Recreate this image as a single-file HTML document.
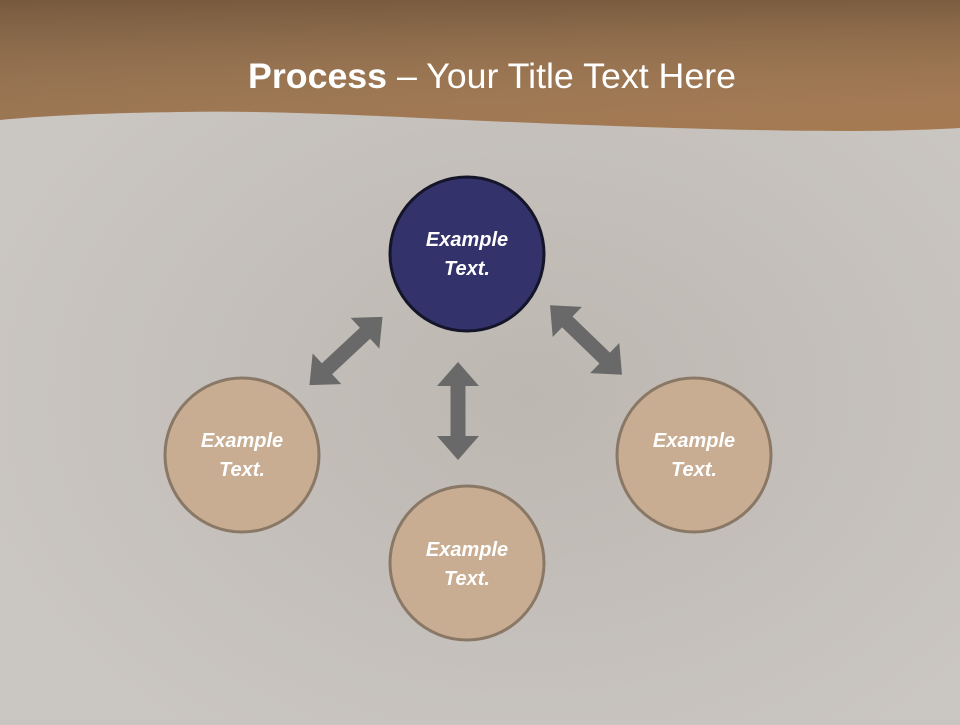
<!DOCTYPE html>
<html><head><style>
body{margin:0;width:960px;height:720px;overflow:hidden;background:#c8c4c0;font-family:"Liberation Sans",sans-serif}
</style></head><body>
<svg width="960" height="720" viewBox="0 0 960 720" xmlns="http://www.w3.org/2000/svg">
<defs>
<linearGradient id="hd" x1="0" y1="0" x2="1" y2="1">
<stop offset="0" stop-color="#8a6a4c"/><stop offset="0.5" stop-color="#9c7652"/><stop offset="1" stop-color="#a57a52"/>
</linearGradient>
<linearGradient id="hv" x1="0" y1="0" x2="0" y2="1">
<stop offset="0" stop-color="#6e5238" stop-opacity="0.7"/><stop offset="1" stop-color="#b08a66" stop-opacity="0"/>
</linearGradient>
<radialGradient id="bg" cx="0.55" cy="0.55" r="0.6">
<stop offset="0" stop-color="#bdb7b1"/><stop offset="1" stop-color="#cac6c2"/>
</radialGradient>
</defs>
<rect width="960" height="720" fill="url(#bg)"/>
<path d="M0 0H960V128C860 134 720 130 560 124C400 118 300 110 180 112C100 113 40 116 0 120Z" fill="url(#hd)"/>
<path d="M0 0H960V128C860 134 720 130 560 124C400 118 300 110 180 112C100 113 40 116 0 120Z" fill="url(#hv)"/>
<text x="492" y="88" text-anchor="middle" fill="#fff" font-family="Liberation Sans, sans-serif" font-size="35" textLength="488" lengthAdjust="spacingAndGlyphs"><tspan font-weight="bold">Process</tspan> – Your Title Text Here</text>
<g fill="#696969">
<polygon transform="translate(458,411) rotate(90)" points="-49,0 -25,-21 -25,-7.5 25,-7.5 25,-21 49,0 25,21 25,7.5 -25,7.5 -25,21"/>
<polygon transform="translate(346,351) rotate(-43)" points="-50,0 -26,-21 -26,-7.5 26,-7.5 26,-21 50,0 26,21 26,7.5 -26,7.5 -26,21"/>
<polygon transform="translate(586,340) rotate(44)" points="-50,0 -26,-21 -26,-7.5 26,-7.5 26,-21 50,0 26,21 26,7.5 -26,7.5 -26,21"/>
</g>
<g stroke-width="3" font-family="Liberation Sans, sans-serif" font-size="20" font-style="italic" font-weight="bold" fill="#fff" text-anchor="middle">
<circle cx="467" cy="254" r="77" fill="#33326a" stroke="#15152a"/>
<circle cx="242" cy="455" r="77" fill="#c8ad92" stroke="#8a7866"/>
<circle cx="467" cy="563" r="77" fill="#c8ad92" stroke="#8a7866"/>
<circle cx="694" cy="455" r="77" fill="#c8ad92" stroke="#8a7866"/>
<g stroke="none">
<text x="467" y="246">Example</text><text x="467" y="275">Text.</text>
<text x="242" y="447">Example</text><text x="242" y="476">Text.</text>
<text x="467" y="556">Example</text><text x="467" y="585">Text.</text>
<text x="694" y="447">Example</text><text x="694" y="476">Text.</text>
</g>
</g>
</svg>
</body></html>
